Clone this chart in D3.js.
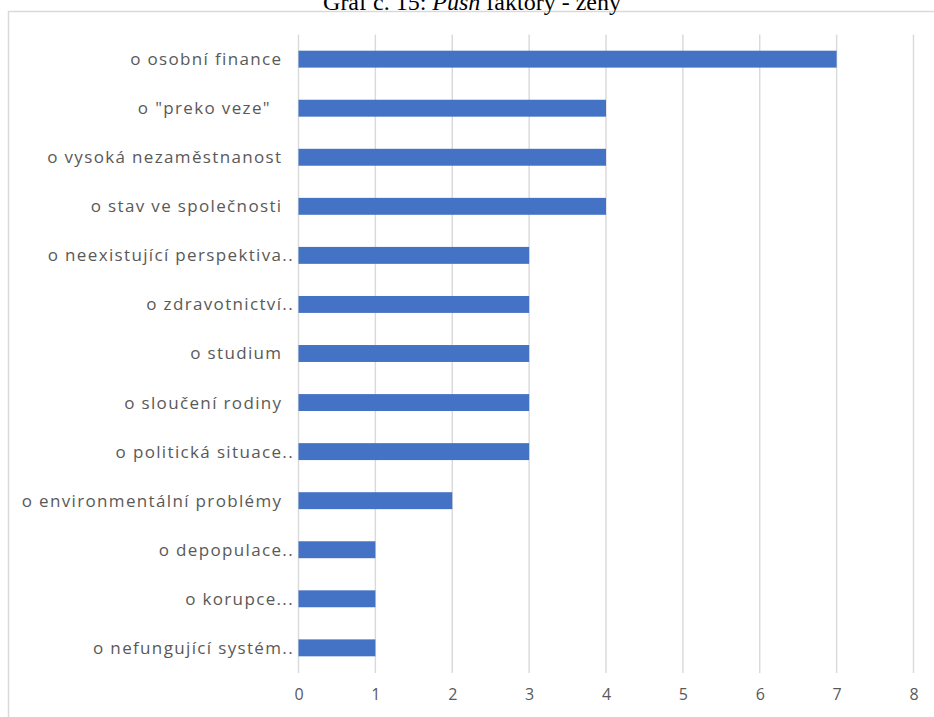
<!DOCTYPE html>
<html>
<head>
<meta charset="utf-8">
<script src="https://cdn.jsdelivr.net/npm/d3@7"></script>
<style>
  html, body { margin: 0; padding: 0; background: #ffffff; overflow: hidden; }
  svg { display: block; }
</style>
</head>
<body>
<svg id="chart" width="934" height="717"></svg>
<script>
// Push factors named by women (count of mentions)
const categories = [
  "o osobní finance\u00a0\u00a0",
  "o \"preko veze\"\u00a0\u00a0\u00a0\u00a0",
  "o vysoká nezaměstnanost\u00a0\u00a0",
  "o stav ve společnosti\u00a0\u00a0",
  "o neexistující perspektiva..",
  "o zdravotnictví..",
  "o studium\u00a0\u00a0",
  "o sloučení rodiny\u00a0\u00a0",
  "o politická situace..",
  "o environmentální problémy\u00a0\u00a0",
  "o depopulace..",
  "o korupce...",
  "o nefungující systém.."
];
const values = [7, 4, 4, 4, 3, 3, 3, 3, 3, 2, 1, 1, 1];
const xTicks = [0, 1, 2, 3, 4, 5, 6, 7, 8];
const titleParts = [
  { text: "Graf č. 15: ", italic: false },
  { text: "Push", italic: true },
  { text: " faktory - ženy", italic: false }
];

const svg = d3.select("#chart");
const labelFont = "'Open Sans', 'Noto Sans', sans-serif";

// outer chart frame (runs past the right and bottom edges)
svg.append("rect")
  .attr("x", 8.5).attr("y", 11.5)
  .attr("width", 1200).attr("height", 1200)
  .attr("fill", "none")
  .attr("stroke", "#d9d9d9")
  .attr("stroke-width", 1.5);

// caption above the frame
const title = svg.append("text")
  .attr("x", 472).attr("y", 10)
  .attr("text-anchor", "middle")
  .style("font-family", "'Liberation Serif', 'Times New Roman', serif")
  .style("font-size", "24px")
  .attr("fill", "#000");
title.selectAll("tspan").data(titleParts).join("tspan")
  .style("font-style", d => d.italic ? "italic" : "normal")
  .text(d => d.text);

const x = d3.scaleLinear().domain([0, 8]).range([298.5, 913.5]);
const y = d3.scaleBand().domain(categories).range([34.5, 672.5]).paddingInner(0.655).paddingOuter(0.33);

// vertical gridlines
svg.append("g").selectAll("line").data(xTicks).join("line")
  .attr("x1", d => x(d)).attr("x2", d => x(d))
  .attr("y1", 34.5).attr("y2", 673)
  .attr("stroke", "#d9d9d9")
  .attr("stroke-width", 1.4);

// bars
svg.append("g").selectAll("rect").data(values).join("rect")
  .attr("x", x(0))
  .attr("y", (d, i) => y(categories[i]))
  .attr("width", d => x(d) - x(0))
  .attr("height", y.bandwidth())
  .attr("fill", "#4472c4");

// category labels
svg.append("g").selectAll("text").data(categories).join("text")
  .attr("x", 294)
  .attr("y", d => y(d) + y.bandwidth() / 2)
  .attr("dy", "0.35em")
  .attr("text-anchor", "end")
  .style("white-space", "pre")
  .style("font-family", labelFont)
  .style("font-size", "17px")
  .style("letter-spacing", "1.35px")
  .attr("fill", "#595959")
  .text(d => d);

// value axis labels
const xAxis = d3.axisBottom(x).tickValues(xTicks).tickSize(0).tickPadding(0).tickFormat(d3.format("d"));
const gx = svg.append("g").attr("transform", "translate(0,689)").call(xAxis);
gx.select(".domain").remove();
gx.selectAll("text")
  .style("font-family", labelFont)
  .style("font-size", "16px")
  .attr("fill", "#595959");
</script>
</body>
</html>
